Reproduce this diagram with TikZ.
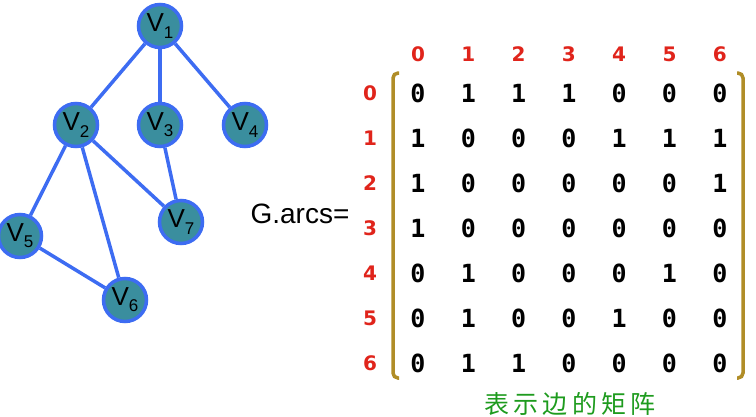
\documentclass[tikz,border=0pt]{standalone}
\usepackage{fontspec}
\setmainfont{Liberation Sans}
\newfontfamily\digfont{DejaVu Sans Mono}
\newfontfamily\idxfont{DejaVu Sans}
\newfontfamily\cjk{Noto Sans CJK SC}
\definecolor{vfill}{HTML}{3A8E9E}
\definecolor{vline}{HTML}{3D6CF2}
\definecolor{brk}{HTML}{B08D27}
\definecolor{capg}{HTML}{1E9B1E}
\definecolor{idx}{HTML}{E0241B}
\newcommand{\vlab}[1]{V\raisebox{-0.45ex}{\fontsize{17}{17}\selectfont #1}}
\begin{document}
\begin{tikzpicture}
[x=1pt,y=-1pt,
v/.style={circle,draw=vline,fill=vfill,line width=3.5pt,minimum size=43pt,inner sep=0pt,font=\fontsize{26}{26}\selectfont},
ed/.style={vline,line width=3.5pt},
ent/.style={font=\digfont\bfseries\fontsize{25}{25}\selectfont,inner sep=0pt},
ix/.style={font=\idxfont\bfseries\fontsize{20}{20}\selectfont,text=idx,inner sep=0pt},
br/.style={brk,line width=3.5pt,rounded corners=5pt}]
\useasboundingbox (0,0) rectangle (756,416);
% graph
\node(v1) at (160,26)[v]{\vlab{1}};
\node(v2) at (76,125)[v]{\vlab{2}};\node(v3) at (160,125)[v]{\vlab{3}};\node(v4) at (245,125)[v]{\vlab{4}};
\node(v5) at (20,236)[v]{\vlab{5}};\node(v6) at (125,300)[v]{\vlab{6}};\node(v7) at (181,222)[v]{\vlab{7}};
\draw[ed](v1)--(v2);\draw[ed](v1)--(v3);\draw[ed](v1)--(v4);\draw[ed](v2)--(v5);
\draw[ed](v2)--(v6);\draw[ed](v2)--(v7);\draw[ed](v3)--(v7);\draw[ed](v5)--(v6);
% matrix
\node(ga) at (300,214)[font=\fontsize{28}{28}\selectfont]{G.arcs=};
\foreach \c in {0,...,6}{\node(h\c) at (418+50.3*\c,54)[ix]{\c};}
\foreach \r/\row in {0/{0,1,1,1,0,0,0},1/{1,0,0,0,1,1,1},2/{1,0,0,0,0,0,1},3/{1,0,0,0,0,0,0},
  4/{0,1,0,0,0,1,0},5/{0,1,0,0,1,0,0},6/{0,1,1,0,0,0,0}}{
  \node(r\r) at (370,93+45*\r)[ix]{\r};
  \foreach \e [count=\c from 0] in \row {\node(m\r\c) at (418+50.3*\c,93+45*\r)[ent]{\e};}}
\draw[br](399,73)--(393,73)--(393,378)--(399,378);
\draw[br](737,73)--(743,73)--(743,378)--(737,378);
\node(cap) at (570,404)[font=\cjk\fontsize{25}{25}\selectfont,text=capg]{表\,示\,边\,的\,矩\,阵};
\end{tikzpicture}
\end{document}
